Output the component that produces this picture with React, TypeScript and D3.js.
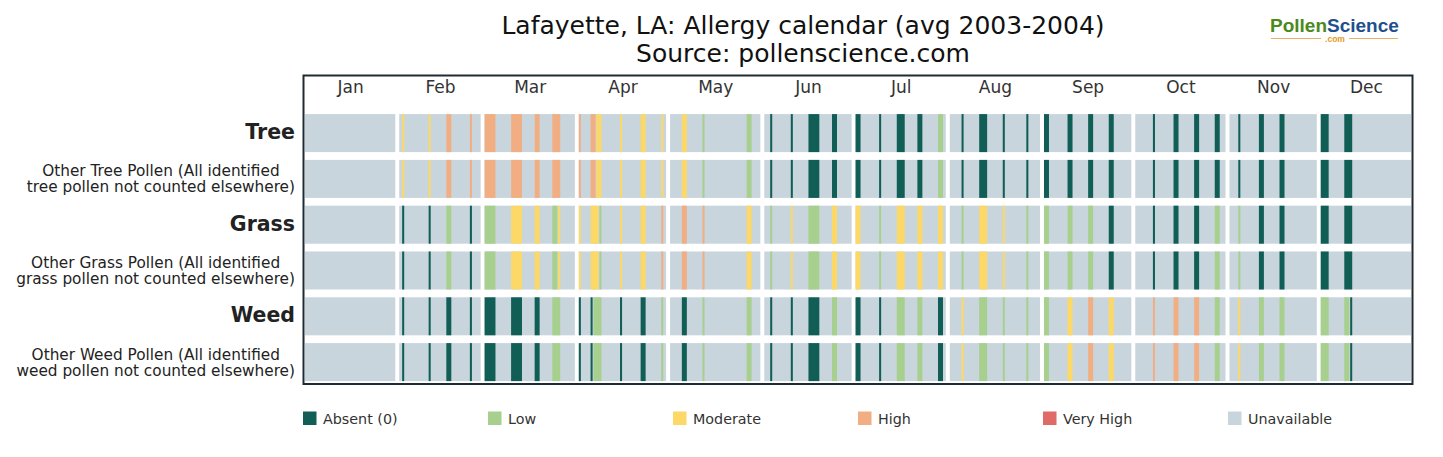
import React, { useEffect, useRef } from 'react';
import * as d3 from 'd3';

const months = ['Jan', 'Feb', 'Mar', 'Apr', 'May', 'Jun', 'Jul', 'Aug', 'Sep', 'Oct', 'Nov', 'Dec'];
const monthDays = [31, 28, 31, 30, 31, 30, 31, 31, 30, 31, 30, 31];

const levelNames = ['Absent (0)', 'Low', 'Moderate', 'High', 'Very High', 'Unavailable'];
const levelColors = ['#105e55', '#a7d08e', '#fcd866', '#f2ae83', '#e06a66', '#c9d5dd'];

const rowLabels = [
  'Tree',
  'Other Tree Pollen (All identified\ntree pollen not counted elsewhere)',
  'Grass',
  'Other Grass Pollen (All identified\ngrass pollen not counted elsewhere)',
  'Weed',
  'Other Weed Pollen (All identified\nweed pollen not counted elsewhere)',
];
const rowSource = ['tree', 'tree', 'grass', 'grass', 'weed', 'weed'];

// [month (0 = Jan), first day, last day, level index]
const treeObs = [
  [1, 2, 2, 2], [1, 11, 11, 2], [1, 17, 18, 3], [1, 25, 25, 3],
  [2, 1, 4, 3], [2, 10, 13, 3], [2, 18, 19, 3], [2, 24, 26, 3],
  [3, 1, 1, 3], [3, 5, 6, 3], [3, 7, 8, 2], [3, 15, 15, 2], [3, 22, 23, 2], [3, 29, 29, 2],
  [4, 5, 6, 2], [4, 12, 12, 1], [4, 27, 28, 1],
  [5, 3, 3, 0], [5, 10, 10, 0], [5, 16, 19, 0], [5, 24, 25, 0],
  [6, 1, 2, 0], [6, 9, 9, 0], [6, 15, 17, 0], [6, 22, 23, 0], [6, 29, 30, 1],
  [7, 5, 5, 0], [7, 11, 13, 0], [7, 19, 19, 0], [7, 27, 27, 0],
  [8, 1, 2, 0], [8, 9, 10, 0], [8, 16, 17, 0], [8, 23, 24, 0],
  [9, 7, 7, 0], [9, 14, 15, 0], [9, 21, 22, 0], [9, 28, 29, 0],
  [10, 4, 4, 0], [10, 11, 12, 0], [10, 18, 19, 0],
  [11, 1, 3, 0], [11, 9, 11, 0],
];

const grassObs = [
  [1, 2, 2, 0], [1, 11, 11, 0], [1, 17, 18, 1], [1, 25, 25, 0],
  [2, 1, 4, 1], [2, 10, 13, 2], [2, 18, 19, 2], [2, 24, 25, 1], [2, 26, 26, 2],
  [3, 1, 1, 2], [3, 5, 7, 2], [3, 8, 8, 1], [3, 15, 15, 2], [3, 22, 23, 2], [3, 29, 29, 3],
  [4, 5, 6, 3], [4, 12, 12, 3], [4, 27, 28, 2],
  [5, 3, 3, 1], [5, 10, 10, 2], [5, 16, 19, 1], [5, 24, 25, 2],
  [6, 1, 2, 2], [6, 9, 9, 1], [6, 15, 17, 2], [6, 22, 23, 2], [6, 29, 30, 2],
  [7, 5, 5, 1], [7, 11, 13, 2], [7, 19, 19, 2], [7, 27, 27, 1],
  [8, 1, 2, 1], [8, 9, 10, 1], [8, 16, 17, 1], [8, 23, 24, 0],
  [9, 7, 7, 0], [9, 14, 15, 0], [9, 21, 22, 0], [9, 28, 29, 1],
  [10, 4, 4, 1], [10, 11, 12, 0], [10, 18, 19, 0],
  [11, 1, 3, 0], [11, 9, 11, 0],
];

const weedObs = [
  [1, 2, 2, 0], [1, 11, 11, 0], [1, 17, 18, 0], [1, 25, 25, 0],
  [2, 1, 4, 0], [2, 10, 13, 0], [2, 18, 19, 0], [2, 24, 26, 1],
  [3, 1, 1, 0], [3, 5, 5, 0], [3, 6, 8, 1], [3, 15, 15, 0], [3, 22, 23, 0], [3, 29, 29, 1],
  [4, 5, 6, 0], [4, 12, 12, 1], [4, 27, 28, 1],
  [5, 3, 3, 0], [5, 10, 10, 0], [5, 16, 19, 0], [5, 24, 25, 1],
  [6, 1, 2, 0], [6, 9, 9, 0], [6, 15, 17, 1], [6, 22, 23, 1], [6, 29, 30, 0],
  [7, 5, 5, 2], [7, 11, 13, 1], [7, 19, 19, 1], [7, 27, 27, 1],
  [8, 1, 2, 1], [8, 9, 10, 2], [8, 16, 17, 3], [8, 23, 24, 2],
  [9, 7, 7, 3], [9, 14, 15, 3], [9, 21, 22, 3], [9, 28, 29, 1],
  [10, 4, 4, 2], [10, 11, 12, 1], [10, 18, 19, 1],
  [11, 1, 3, 1], [11, 9, 10, 1], [11, 11, 11, 0],
];

const obsBySource: Record<string, number[][]> = { tree: treeObs, grass: grassObs, weed: weedObs };

export default function App() {
  const ref = useRef<SVGSVGElement>(null);

  useEffect(() => {
    const svg = d3.select(ref.current);
    svg.selectAll('*').remove();

    // month start in "units": one blank unit between months
    const monthStart = monthDays.map((_, i) => d3.sum(monthDays.slice(0, i)) + i);
    const totalUnits = d3.sum(monthDays) + months.length - 1;

    const x = d3.scaleLinear().domain([0, totalUnits]).range([305, 1412]);
    const y = d3.scaleBand<number>()
      .domain(d3.range(rowLabels.length))
      .range([110.2, 385])
      .paddingInner(0.17)
      .paddingOuter(0.085);

    // title
    const title = svg.append('g').attr('font-family', 'DejaVu Sans').attr('font-size', 25).attr('fill', '#111').attr('text-anchor', 'middle');
    title.append('text').attr('x', 803).attr('y', 34).text('Lafayette, LA: Allergy calendar (avg 2003-2004)');
    title.append('text').attr('x', 803).attr('y', 62).text('Source: pollenscience.com');

    // logo
    const logo = svg.append('g');
    const lt = logo.append('text').attr('x', 1270).attr('y', 32)
      .attr('font-family', 'Liberation Sans, Arial').attr('font-weight', 'bold').attr('font-size', 19);
    lt.append('tspan').attr('fill', '#4a8a1d').text('Pollen');
    lt.append('tspan').attr('fill', '#1f4f8c').text('Science');
    logo.append('line').attr('x1', 1271).attr('x2', 1321).attr('y1', 38.5).attr('y2', 38.5).attr('stroke', '#eab068').attr('stroke-width', 1.2);
    logo.append('line').attr('x1', 1349).attr('x2', 1398).attr('y1', 38.5).attr('y2', 38.5).attr('stroke', '#eab068').attr('stroke-width', 1.2);
    logo.append('text').attr('x', 1335).attr('y', 42).attr('text-anchor', 'middle')
      .attr('font-family', 'Liberation Sans, Arial').attr('font-weight', 'bold').attr('font-size', 8.5).attr('fill', '#e49a2b').text('.com');

    // frame
    svg.append('rect').attr('x', 303.5).attr('y', 75.5).attr('width', 1109).attr('height', 308.5)
      .attr('fill', 'none').attr('stroke', '#1f2b33').attr('stroke-width', 2);

    // month labels
    svg.append('g').attr('font-family', 'DejaVu Sans').attr('font-size', 17).attr('fill', '#333').attr('text-anchor', 'middle')
      .selectAll('text').data(months).join('text')
      .attr('x', (_, i) => x(monthStart[i] + monthDays[i] / 2))
      .attr('y', 93)
      .text(d => d);

    const unit = x(1) - x(0);

    // cells
    rowLabels.forEach((_, r) => {
      const g = svg.append('g');
      const y0 = y(r) as number;
      const h = y.bandwidth();
      g.selectAll('rect.bg').data(months).join('rect')
        .attr('class', 'bg')
        .attr('x', (_, i) => x(monthStart[i]))
        .attr('width', (_, i) => x(monthStart[i] + monthDays[i]) - x(monthStart[i]) - 1)
        .attr('y', y0).attr('height', h)
        .attr('fill', levelColors[5]);
      g.selectAll('rect.obs').data(obsBySource[rowSource[r]]).join('rect')
        .attr('class', 'obs')
        .attr('x', d => x(monthStart[d[0]] + d[1] - 1))
        .attr('width', d => (d[2] - d[1] + 1) * unit - 0.9)
        .attr('y', y0).attr('height', h)
        .attr('fill', d => levelColors[d[3]]);
    });

    // row labels
    const labels = svg.append('g').attr('font-family', 'DejaVu Sans').attr('fill', '#222');
    rowLabels.forEach((lab, r) => {
      const cy = (y(r) as number) + y.bandwidth() / 2;
      const lines = lab.split('\n');
      if (lines.length === 1) {
        labels.append('text').attr('x', 295).attr('y', cy + 6)
          .attr('text-anchor', 'end').attr('font-weight', 'bold').attr('font-size', 20.5).text(lab);
      } else {
        const ts = lines.map((ln, k) => labels.append('text')
          .attr('y', cy - 8 + k * 16 + 5.5)
          .attr('font-size', 15.3).attr('text-anchor', 'middle').text(ln));
        const w = d3.max(ts, t => (t.node() as SVGTextElement).getComputedTextLength()) || 0;
        ts.forEach(t => t.attr('x', 295 - w / 2));
      }
    });

    // legend
    const lg = svg.append('g').attr('font-family', 'DejaVu Sans').attr('font-size', 14.3).attr('fill', '#333');
    const lx = d3.scalePoint<number>().domain(d3.range(levelNames.length)).range([303, 1228]);
    levelNames.forEach((name, i) => {
      lg.append('rect').attr('x', lx(i) as number).attr('y', 411.5).attr('width', 13.5).attr('height', 13.5)
        .attr('fill', levelColors[i]);
      lg.append('text').attr('x', (lx(i) as number) + 20).attr('y', 423.5).text(name);
    });
  }, []);

  return (
    <svg ref={ref} width={1443} height={457} style={{ position: 'absolute', left: 0, top: 0, background: '#fff' }} />
  );
}
